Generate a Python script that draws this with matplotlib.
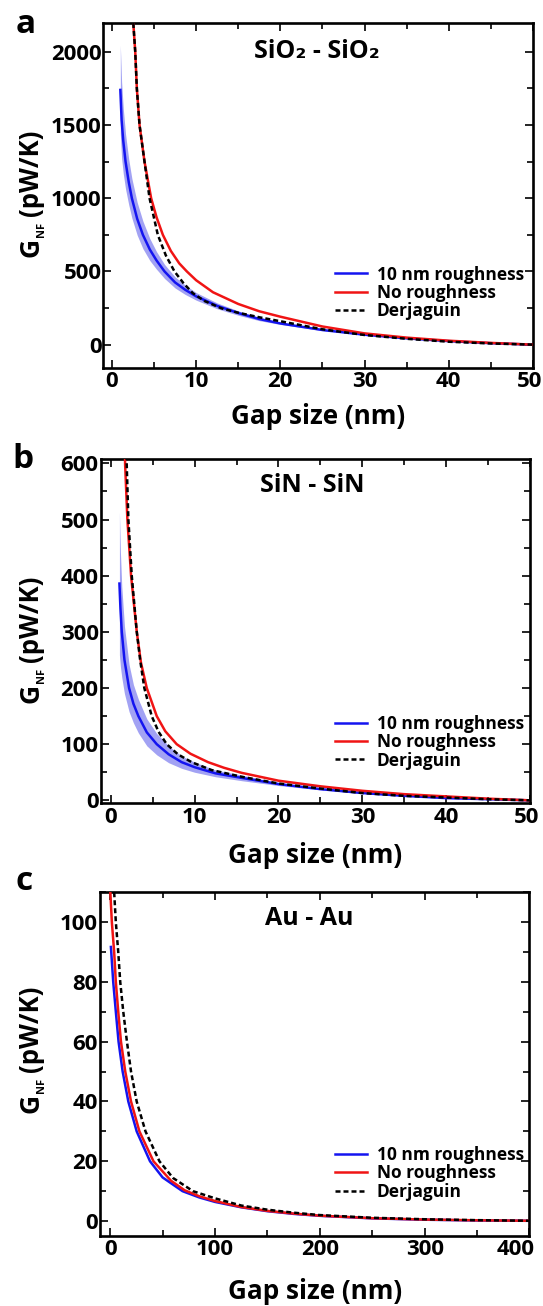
import matplotlib
matplotlib.use("Agg")

import matplotlib.pyplot as plt
from matplotlib.ticker import MultipleLocator
from matplotlib.transforms import ScaledTranslation


# ============================================================
# DATA
# ============================================================

# ---- panel a : SiO2 - SiO2 ----
gap_a_blue = [1.0, 1.15, 1.35, 1.62, 2.0, 2.37, 3.0, 3.68, 4.5, 5.3, 6.25, 7.5,
              8.7, 10, 12.5, 15, 17.5, 20, 25, 30, 35, 40, 45, 50]
g_a_blue = [1740, 1534, 1390, 1250, 1110, 1000, 860, 750, 650, 575, 500, 425,
            375, 330, 265, 216, 175, 145, 100, 68, 43, 24, 10, 0]
g_a_blue_hi = [2045, 1795, 1612, 1438, 1265, 1135, 972, 844, 725, 635, 548,
               463, 407, 356, 285, 231, 186, 152, 104, 70, 44, 24.5, 10, 0]
g_a_blue_lo = [1440, 1273, 1168, 1063, 955, 865, 748, 656, 575, 515, 452, 387,
               343, 304, 245, 201, 164, 138, 96, 66, 42, 23.5, 10, 0]

gap_a_red = [2.4, 2.5, 2.77, 2.96, 3.28, 3.87, 4.66, 5.3, 6.05, 7.0, 8.0, 8.9,
             10, 12, 15, 17.5, 20, 25, 30, 35, 40, 45, 50]
g_a_red = [2500, 2230, 2000, 1750, 1500, 1250, 1000, 870, 750, 640, 555, 500,
           440, 358, 278, 228, 191, 124, 77, 48, 27, 12, 0]

gap_a_derj = [2.4, 2.5, 2.77, 2.96, 3.28, 3.87, 4.47, 5.45, 6.4, 7.43, 8.5,
              9.6, 11, 13, 15, 17.5, 20, 25, 30, 35, 40, 45, 50]
g_a_derj = [2500, 2230, 2000, 1750, 1500, 1250, 1000, 750, 610, 500, 420, 352,
            298, 248, 218, 187, 160, 105, 66, 40, 20, 8, 0]

# ---- panel b : SiN - SiN ----
gap_b_blue = [1.03, 1.15, 1.31, 1.63, 2.18, 2.7, 3.29, 4.3, 5.48, 6.9, 8.45,
              10, 12.5, 15.6, 20, 25, 30, 35, 40, 45, 50]
g_b_blue = [386, 342, 300, 250, 200, 172, 150, 121, 100, 82, 68, 59, 48, 40,
            29, 20, 13, 8, 4, 2, 0]
g_b_blue_hi = [513, 442, 381, 310, 242, 206, 180, 145, 119, 97, 79, 68, 54, 45,
               31.6, 21.4, 13.7, 8.2, 4.1, 2, 0]
g_b_blue_lo = [259, 238, 219, 190, 158, 138, 120, 97, 81, 67, 57, 50, 42, 35,
               26.4, 18.6, 12.4, 7.8, 3.9, 2, 0]

gap_b_red = [1.6, 1.71, 1.98, 2.42, 3.1, 3.6, 4.29, 5.48, 6.5, 7.86, 9.5, 11.6,
             13.5, 15.6, 20, 25, 30, 35, 40, 45, 50]
g_b_red = [700, 598, 500, 400, 300, 245, 200, 150, 123, 100, 83, 68, 58, 49,
           35, 25, 17, 11, 7, 3, 0]

gap_b_derj = [1.8, 1.9, 2.1, 2.5, 3.1, 3.5, 4.0, 4.88, 5.7, 6.67, 8.0, 9.64,
              12, 15.6, 20, 25, 30, 35, 40, 45, 50]
g_b_derj = [700, 598, 500, 400, 300, 250, 200, 150, 122, 100, 82, 68, 54, 42,
            30, 21, 13, 8, 5, 2, 0]

# ---- panel c : Au - Au ----
gap_c_blue = [0.7, 2.9, 5.4, 8.0, 11.9, 17.3, 25.3, 38, 50, 69, 85, 100, 125,
              150, 175, 200, 250, 300, 350, 400]
g_c_blue = [91.7, 80, 70, 60, 50, 40, 30, 20, 14.6, 10, 7.9, 6.4, 4.6, 3.3,
            2.4, 1.75, 0.9, 0.45, 0.2, 0.08]

gap_c_red = [0, 1.6, 3.8, 5.4, 7.7, 10.3, 14.4, 19.9, 27.9, 41.3, 58, 71, 85,
             100, 125, 150, 175, 200, 250, 300, 350, 400]
g_c_red = [111, 100, 90, 80, 70, 60, 50, 40, 30, 20, 13.5, 10.3, 8.3, 6.7,
           4.7, 3.4, 2.5, 1.8, 0.95, 0.5, 0.25, 0.1]

gap_c_derj = [3.8, 5.4, 7.7, 9.6, 12.5, 16, 19.9, 25.3, 33.7, 47, 60, 79, 100,
              125, 150, 175, 200, 250, 300, 350, 400]
g_c_derj = [110, 100, 90, 80, 70, 60, 50, 40, 30, 20, 14.4, 10, 7.6, 5.2,
            3.8, 2.8, 2.0, 1.1, 0.6, 0.3, 0.1]

legend_labels = ["10 nm roughness", "No roughness", "Derjaguin"]
panel_titles = ["SiO\u2082 - SiO\u2082", "SiN - SiN", "Au - Au"]
panel_letters = ["a", "b", "c"]


# ============================================================
# STYLE
# ============================================================

plt.rcParams["font.family"] = ["Open Sans", "DejaVu Sans"]
plt.rcParams["font.weight"] = "bold"

BLUE = "#1414f0"
RED = "#f01414"
BAND = "#7b7bef"

fig = plt.figure(figsize=(5.43, 13.06), dpi=100)

# axes rectangles in figure fraction
rects = [
    [0.1906, 0.7185, 0.7910, 0.2642],
    [0.1855, 0.3849, 0.7906, 0.2636],
    [0.1836, 0.0536, 0.7915, 0.2632],
]

axes = [fig.add_axes(r) for r in rects]


def style_axis(ax, xlim, ylim, xmaj, xmin, ymaj, ymin, xlabelpad):
    ax.set_xlim(*xlim)
    ax.set_ylim(*ylim)
    ax.xaxis.set_major_locator(MultipleLocator(xmaj))
    ax.xaxis.set_minor_locator(MultipleLocator(xmin))
    ax.yaxis.set_major_locator(MultipleLocator(ymaj))
    ax.yaxis.set_minor_locator(MultipleLocator(ymin))
    ax.tick_params(which="both", direction="in", top=True, right=True,
                   width=1.2, color="black")
    ax.tick_params(which="major", length=6, labelsize=16, pad=2.5)
    ax.tick_params(which="minor", length=4)
    ax.tick_params(axis="y", which="major", pad=1.5)
    for spine in ax.spines.values():
        spine.set_linewidth(1.9)
    for lab in ax.get_xticklabels() + ax.get_yticklabels():
        lab.set_fontweight("bold")
    ax.set_xlabel("Gap size (nm)", fontsize=18.8, fontweight="bold",
                  labelpad=xlabelpad)


def draw_curves(ax, blue, red, derj, band=None):
    if band is not None:
        ax.fill_between(blue[0], band[0], band[1], color=BAND, alpha=0.7,
                        linewidth=0, zorder=1)
    h1, = ax.plot(blue[0], blue[1], color=BLUE, lw=1.8, zorder=2,
                  label=legend_labels[0])
    h2, = ax.plot(red[0], red[1], color=RED, lw=1.8, zorder=3,
                  label=legend_labels[1])
    h3, = ax.plot(derj[0], derj[1], color="black", lw=1.8, zorder=4,
                  dashes=(2.0, 1.2), label=legend_labels[2])
    return [h1, h2, h3]


# ------------------------------------------------------------
# PANEL A
# ------------------------------------------------------------
ax = axes[0]
hs_a = draw_curves(ax, (gap_a_blue, g_a_blue), (gap_a_red, g_a_red),
                   (gap_a_derj, g_a_derj), band=(g_a_blue_lo, g_a_blue_hi))
style_axis(ax, (-1, 50), (-157, 2200), 10, 5, 500, 250, 8)

# ------------------------------------------------------------
# PANEL B
# ------------------------------------------------------------
ax = axes[1]
hs_b = draw_curves(ax, (gap_b_blue, g_b_blue), (gap_b_red, g_b_red),
                   (gap_b_derj, g_b_derj), band=(g_b_blue_lo, g_b_blue_hi))
style_axis(ax, (-1.2, 50), (-5.3, 607.7), 10, 5, 100, 50, 10)

# ------------------------------------------------------------
# PANEL C
# ------------------------------------------------------------
ax = axes[2]
hs_c = draw_curves(ax, (gap_c_blue, g_c_blue), (gap_c_red, g_c_red),
                   (gap_c_derj, g_c_derj))
style_axis(ax, (-10, 400), (-5, 110), 100, 50, 20, 10, 12.5)

# ------------------------------------------------------------
# TITLES, LEGENDS, LETTERS
# ------------------------------------------------------------
title_pos = [(0.497, 0.916), (0.492, 0.924), (0.487, 0.923)]
legend_pos = [(0.539, 0.296), (0.546, 0.257), (0.547, 0.262)]

for ax, title, tpos, lpos, hs in zip(axes, panel_titles, title_pos,
                                     legend_pos, [hs_a, hs_b, hs_c]):
    ax.text(tpos[0], tpos[1], title, transform=ax.transAxes, ha="center",
            va="center", fontsize=18, fontweight="bold")
    leg = ax.legend(handles=hs, loc="upper left", bbox_to_anchor=lpos,
                    frameon=False, fontsize=12.5, handlelength=1.84,
                    handletextpad=0.57, labelspacing=0.02, borderpad=0,
                    borderaxespad=0)
    for t in leg.get_texts():
        t.set_fontweight("bold")

letter_pos = [(0.0287, 0.9745), (0.022, 0.6414), (0.0287, 0.3185)]
for letter, (lx, ly) in zip(panel_letters, letter_pos):
    fig.text(lx, ly, letter, fontsize=24, fontweight="bold", ha="left",
             va="baseline")

# ------------------------------------------------------------
# Y LABELS: "G" + small "NF" subscript + "(pW/K)"
# ------------------------------------------------------------
fig.canvas.draw()
renderer = fig.canvas.get_renderer()
H = fig.bbox.height
W = fig.bbox.width

# (baseline x px, bottom y px of "G") in image pixel coordinates
ylabel_start = [(38, 257), (38, 703), (38, 1113)]

for (bx, by) in ylabel_start:
    x0 = bx / W
    y0 = 1 - by / H
    t1 = fig.text(x0, y0, "G", rotation=90, rotation_mode="anchor",
                  ha="left", va="baseline", fontsize=19, fontweight="bold")
    ext = t1.get_window_extent(renderer)
    y1 = y0 + (ext.height + 0.5) / H
    t2 = fig.text((bx + 6) / W, y1, "NF", rotation=90,
                  rotation_mode="anchor", ha="left", va="baseline",
                  fontsize=8, fontweight="bold")
    ext2 = t2.get_window_extent(renderer)
    y2 = y1 + (ext2.height + 6) / H
    fig.text(x0, y2, "(pW/K)", rotation=90, rotation_mode="anchor",
             ha="left", va="baseline", fontsize=18.5, fontweight="bold")

# nudge the last x tick label of each panel inwards, as in the reference
shifts = [-3.5, -3.0, -14.0]
for ax, dx in zip(axes, shifts):
    ticks = ax.get_xticks()
    xmax = ax.get_xlim()[1]
    for tick, t in zip(ax.xaxis.get_major_ticks(), ticks):
        if abs(t - xmax) < 1e-6:
            tick.label1.set_transform(
                tick.label1.get_transform()
                + ScaledTranslation(dx / 100, 0, fig.dpi_scale_trans))

fig.savefig("out.png", dpi=100)
